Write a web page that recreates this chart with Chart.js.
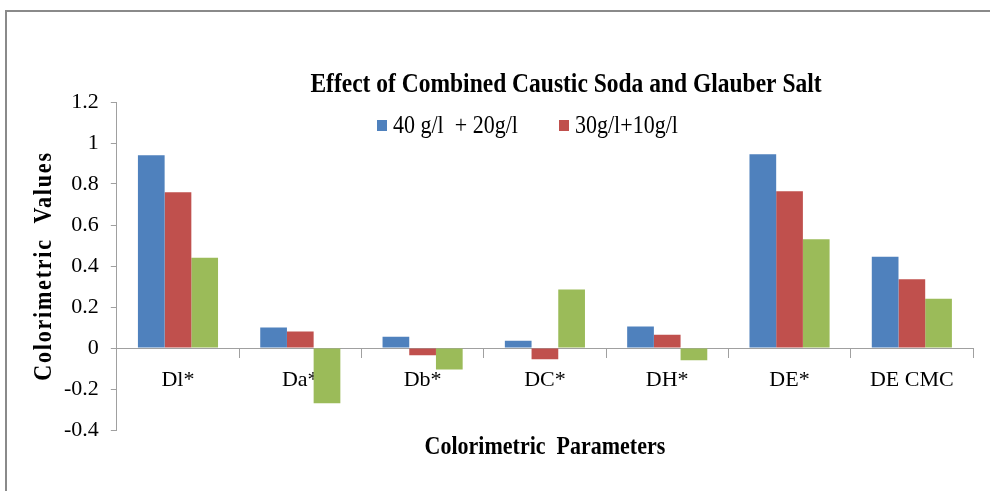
<!DOCTYPE html>
<html>
<head>
<meta charset="utf-8">
<script src="https://cdn.jsdelivr.net/npm/chart.js@4.4.1/dist/chart.umd.min.js"></script>
<style>
  html, body { margin: 0; padding: 0; background: #ffffff; }
  #wrap { position: relative; width: 990px; height: 491px; overflow: hidden; }
  #frame { position: absolute; left: 5px; top: 10px; width: 1000px; height: 500px;
           border-left: 2px solid #8a8a8a; border-top: 2px solid #8a8a8a; box-sizing: border-box; }
  canvas { position: absolute; left: 0; top: 0; }
</style>
</head>
<body>
<div id="wrap">
  <div id="frame"></div>
  <canvas id="c" width="990" height="491"></canvas>
</div>
<script>
const categories = ['Dl*', 'Da*', 'Db*', 'DC*', 'DH*', 'DE*', 'DE CMC'];
const series1Label = '40 g/l  + 20g/l';
const series2Label = '30g/l+10g/l';
const series3Label = '';
const series1 = [0.94, 0.10, 0.055, 0.035, 0.105, 0.945, 0.445];
const series2 = [0.76, 0.08, -0.035, -0.055, 0.065, 0.765, 0.335];
const series3 = [0.44, -0.27, -0.105, 0.285, -0.06, 0.53, 0.24];
const yTickValues = [-0.4, -0.2, 0, 0.2, 0.4, 0.6, 0.8, 1, 1.2];
const yTickLabels = ['-0.4', '-0.2', '0', '0.2', '0.4', '0.6', '0.8', '1', '1.2'];
const chartTitle = 'Effect of Combined Caustic Soda and Glauber Salt';
const xTitle = 'Colorimetric  Parameters';
const yTitle = 'Colorimetric  Values';

const SERIF = '"Liberation Serif", "Times New Roman", Times, serif';
const AXIS = '#a0a0a0';
const COLORS = ['#4F81BD', '#C0504D', '#9BBB59'];

function tallText(ctx, txt, x, y, sy) {
  ctx.save();
  ctx.translate(x, y);
  ctx.scale(1, sy);
  ctx.fillText(txt, 0, 0);
  ctx.restore();
}

const decorPlugin = {
  id: 'decor',
  afterDraw(chart) {
    const ctx = chart.ctx;
    const area = chart.chartArea;
    ctx.save();
    ctx.fillStyle = '#000';
    ctx.textBaseline = 'middle';
    // title
    ctx.font = 'bold 23.5px ' + SERIF;
    ctx.textAlign = 'center';
    tallText(ctx, chartTitle, 566, 85, 1.15);
    // legend
    ctx.font = '22px ' + SERIF;
    ctx.textAlign = 'left';
    const items = [[series1Label, COLORS[0], 377], [series2Label, COLORS[1], 559]];
    items.forEach(([txt, col, x]) => {
      ctx.fillStyle = col;
      ctx.fillRect(x, 120, 10, 11);
      ctx.fillStyle = '#000';
      tallText(ctx, txt, x + 16, 127, 1.12);
    });
    // x-axis title
    ctx.font = 'bold 22px ' + SERIF;
    ctx.textAlign = 'center';
    tallText(ctx, xTitle, (area.left + area.right) / 2, 448, 1.12);
    // y-axis title (rotated, slightly letter-spaced like the original)
    ctx.save();
    ctx.translate(45, (area.top + area.bottom) / 2);
    ctx.rotate(-Math.PI / 2);
    ctx.font = 'bold 22px ' + SERIF;
    if ('letterSpacing' in ctx) ctx.letterSpacing = '1.8px';
    ctx.textAlign = 'center';
    ctx.textBaseline = 'middle';
    ctx.scale(1, 1.1);
    ctx.fillText(yTitle, 0, 0);
    ctx.restore();
    ctx.restore();
  }
};

new Chart(document.getElementById('c'), {
  type: 'bar',
  data: {
    labels: categories,
    datasets: [
      { label: series1Label, data: series1, backgroundColor: COLORS[0] },
      { label: series2Label, data: series2, backgroundColor: COLORS[1] },
      { label: series3Label, data: series3, backgroundColor: COLORS[2] }
    ]
  },
  options: {
    responsive: false,
    animation: false,
    devicePixelRatio: 1,
    layout: { padding: { top: 102, left: 52, right: 17, bottom: 61 } },
    datasets: { bar: { barPercentage: 1, categoryPercentage: 0.655 } },
    plugins: {
      legend: { display: false },
      title: { display: false },
      tooltip: { enabled: false }
    },
    scales: {
      x: {
        position: { y: 0 },
        offset: true,
        grid: { display: true, drawOnChartArea: false, drawTicks: true, tickLength: 9, color: AXIS, offset: true },
        border: { display: true, color: AXIS, width: 1 },
        ticks: { color: '#000', font: { family: SERIF, size: 22 }, padding: 10, maxRotation: 0, autoSkip: false }
      },
      y: {
        min: -0.4,
        max: 1.2,
        afterBuildTicks(scale) { scale.ticks = yTickValues.map(v => ({ value: v })); },
        grid: { display: true, drawOnChartArea: false, drawTicks: true, tickLength: 6, color: AXIS },
        border: { display: true, color: AXIS, width: 1 },
        ticks: {
          color: '#000',
          font: { family: SERIF, size: 22 },
          padding: 12,
          callback: (v) => { const i = yTickValues.findIndex(t => Math.abs(t - v) < 1e-9); return i >= 0 ? yTickLabels[i] : ''; }
        },
        title: { display: false, text: yTitle }
      }
    }
  },
  plugins: [decorPlugin]
});
</script>
</body>
</html>
